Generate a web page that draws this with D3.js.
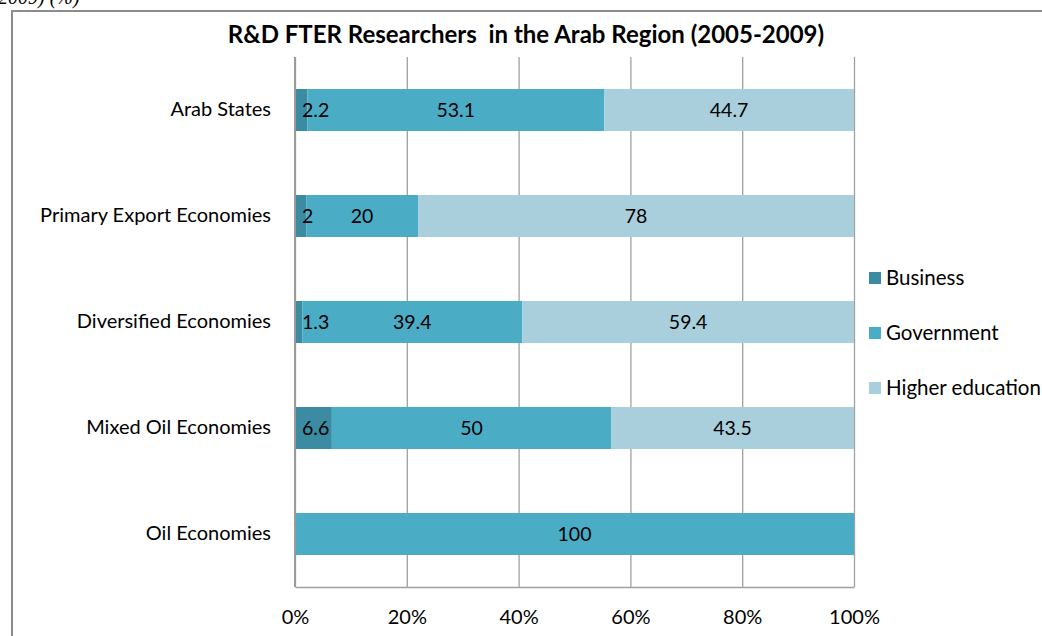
<!DOCTYPE html>
<html>
<head>
<meta charset="utf-8">
<script src="https://cdn.jsdelivr.net/npm/d3@7"></script>
<style>
  body { margin: 0; background: #fff; }
  svg { display: block; font-family: Lato, "Open Sans", sans-serif; }
  svg .tick text { fill: #000; font-family: Lato, "Open Sans", sans-serif; }
</style>
</head>
<body>
<script>
// data
const categories = ["Arab States", "Primary Export Economies", "Diversified Economies", "Mixed Oil Economies", "Oil Economies"];
const seriesNames = ["Business", "Government", "Higher education"];
const business   = [2.2, 2, 1.3, 6.6, 0];
const government = [53.1, 20, 39.4, 50, 100];
const higherEdu  = [44.7, 78, 59.4, 43.5, 0];
const tickValues = [0, 0.2, 0.4, 0.6, 0.8, 1];
const colors = ["#3b8ba2", "#4bacc6", "#a9cfdd"];

const W = 1042, H = 636;
const margin = {top: 57, right: 188, bottom: 49, left: 295},
  width = W - margin.left - margin.right,   // 559
  height = H - margin.top - margin.bottom;  // 530

const svg = d3.select("body").append("svg")
    .attr("width", W)
    .attr("height", H);

// cropped caption and frame
svg.append("text")
    .attr("x", -2).attr("y", 4)
    .style("font-family", "'Liberation Serif', serif")
    .style("font-style", "italic")
    .style("font-size", "20px")
    .text("2009) (%)");

svg.append("path")
    .attr("d", `M12,${H + 5} V11 H${W + 5}`)
    .attr("fill", "none")
    .attr("stroke", "#8c8c8c")
    .attr("stroke-width", 2);

svg.append("text")
    .attr("x", 526).attr("y", 43)
    .attr("text-anchor", "middle")
    .style("font-weight", "bold")
    .style("font-size", "24px")
    .style("white-space", "pre")
    .text("R&D FTER Researchers  in the Arab Region (2005-2009)");

const g = svg.append("g")
    .attr("transform", `translate(${margin.left},${margin.top})`);

const y = d3.scaleBand()
    .domain(categories)
    .range([0, height])
    .paddingInner(0.604)
    .paddingOuter(0.302);

const x = d3.scaleLinear()
    .domain([0, 1])
    .range([0, width]);

// gridlines
g.append("g")
    .attr("class", "grid")
    .call(d3.axisBottom(x).tickValues(tickValues).tickSize(height).tickFormat(""))
    .call(s => s.select(".domain").remove())
    .call(s => s.selectAll("line").attr("stroke", "#a0a0a0").attr("stroke-width", 1.3));

// stacked data
const rows = categories.map((c, i) => {
  const vals = [business[i], government[i], higherEdu[i]];
  const total = d3.sum(vals);
  let acc = 0;
  return vals.map((v, k) => {
    const seg = {cat: c, k: k, v: v, x0: acc / total, x1: (acc + v) / total};
    acc += v;
    return seg;
  });
});

const bar = g.selectAll(".bar")
  .data(rows)
  .join("g")
    .attr("class", "bar")
    .attr("transform", d => `translate(0,${y(d[0].cat)})`);

bar.selectAll("rect")
  .data(d => d.filter(s => s.v > 0))
  .join("rect")
    .attr("x", d => x(d.x0))
    .attr("width", d => x(d.x1) - x(d.x0))
    .attr("height", y.bandwidth())
    .attr("fill", d => colors[d.k]);

// data labels
bar.selectAll("text")
  .data(d => d.filter(s => s.v > 0))
  .join("text")
    .attr("y", y.bandwidth() / 2 + 7)
    .attr("text-anchor", "middle")
    .style("font-size", "19.5px")
    .text(d => d.v)
    .attr("x", function(d) {
      const w = this.getComputedTextLength();
      const c = (x(d.x0) + x(d.x1)) / 2;
      return Math.max(c, w / 2 + 7);
    });

// axes
g.append("g")
    .attr("transform", `translate(0,${height})`)
    .call(d3.axisBottom(x).tickValues(tickValues).tickSize(0).tickPadding(23).tickFormat(d3.format(".0%")))
    .call(s => s.select(".domain").attr("stroke", "#a0a0a0").attr("stroke-width", 1.5))
    .call(s => s.selectAll("text").style("font-size", "20px"));

g.append("g")
    .call(d3.axisLeft(y).tickSize(0).tickPadding(24))
    .call(s => s.select(".domain").attr("stroke", "#9a9a9a").attr("stroke-width", 2).attr("d", `M0,0V${height}`))
    .call(s => s.selectAll("text").style("font-size", "20px").attr("dy", "0.3em"));

// legend
const legend = svg.append("g")
    .attr("transform", "translate(869,268)");

const item = legend.selectAll("g")
  .data(seriesNames)
  .join("g")
    .attr("transform", (d, i) => `translate(0,${i * 55})`);

item.append("rect")
    .attr("width", 12).attr("height", 12)
    .attr("y", 4)
    .attr("fill", (d, i) => colors[i]);

item.append("text")
    .attr("x", 17).attr("y", 17)
    .style("font-size", "20.5px")
    .text(d => d);
</script>
</body>
</html>
